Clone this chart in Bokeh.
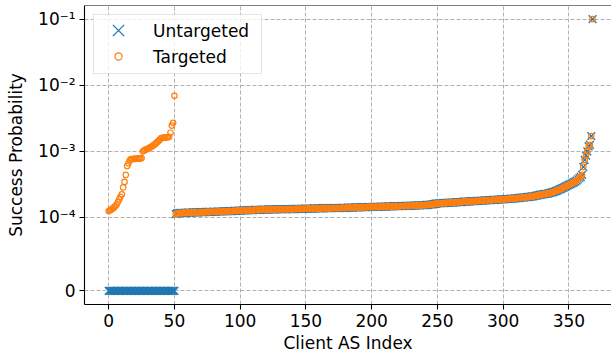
import numpy as np
from bokeh.plotting import figure
from bokeh.models import Range1d, FixedTicker, Span, Legend, LegendItem
from bokeh.embed import file_html
from bokeh.resources import INLINE

# ---------------- data (probabilities in units of 1e-4) ----------------
UNIT = 1e-4

untargeted_head = [0.0] * 51          # indices 0..50 : probability 0

targeted_head = [
    1.25, 1.28, 1.32, 1.36, 1.42, 1.48, 1.55, 1.70, 1.88, 2.05,
    2.24, 2.84, 3.45, 4.40, 6.00, 6.60, 7.30, 7.60, 7.65, 7.70,
    7.70, 7.75, 7.75, 7.80, 7.80, 7.90, 10.0, 10.3, 10.6, 10.8,
    11.0, 11.3, 11.6, 11.9, 12.3, 12.8, 13.3, 13.8, 14.4, 15.2,
    15.8, 16.0, 16.1, 16.2, 16.3, 16.4, 16.5, 19.1, 24.5, 27.0,
    69.0,
]

# indices 51..368 : both attacks give (almost) the same probability
shared_tail = [
    1.12, 1.15, 1.16, 1.16, 1.17, 1.17, 1.17, 1.17, 1.18, 1.18,
    1.18, 1.18, 1.18, 1.19, 1.19, 1.19, 1.19, 1.19, 1.20, 1.20,
    1.20, 1.20, 1.20, 1.21, 1.21, 1.21, 1.21, 1.21, 1.22, 1.22,
    1.22, 1.22, 1.23, 1.23, 1.23, 1.23, 1.24, 1.24, 1.24, 1.24,
    1.25, 1.25, 1.25, 1.25, 1.26, 1.26, 1.26, 1.27, 1.27, 1.27,
    1.27, 1.28, 1.28, 1.28, 1.28, 1.29, 1.29, 1.29, 1.29, 1.29,
    1.30, 1.30, 1.30, 1.30, 1.30, 1.31, 1.31, 1.31, 1.31, 1.31,
    1.31, 1.32, 1.32, 1.32, 1.32, 1.32, 1.32, 1.33, 1.33, 1.33,
    1.33, 1.33, 1.33, 1.33, 1.34, 1.34, 1.34, 1.34, 1.34, 1.34,
    1.34, 1.35, 1.35, 1.35, 1.35, 1.35, 1.35, 1.35, 1.35, 1.36,
    1.36, 1.36, 1.36, 1.36, 1.36, 1.37, 1.37, 1.37, 1.37, 1.37,
    1.37, 1.37, 1.38, 1.38, 1.38, 1.38, 1.38, 1.38, 1.38, 1.39,
    1.39, 1.39, 1.39, 1.39, 1.39, 1.39, 1.40, 1.40, 1.40, 1.40,
    1.40, 1.41, 1.41, 1.41, 1.41, 1.41, 1.42, 1.42, 1.42, 1.42,
    1.42, 1.43, 1.43, 1.43, 1.43, 1.43, 1.44, 1.44, 1.44, 1.44,
    1.44, 1.45, 1.45, 1.45, 1.45, 1.45, 1.46, 1.46, 1.46, 1.46,
    1.46, 1.47, 1.47, 1.47, 1.47, 1.47, 1.48, 1.48, 1.48, 1.48,
    1.48, 1.49, 1.49, 1.49, 1.49, 1.50, 1.50, 1.50, 1.50, 1.51,
    1.51, 1.51, 1.51, 1.52, 1.52, 1.52, 1.52, 1.53, 1.53, 1.53,
    1.54, 1.55, 1.55, 1.56, 1.57, 1.58, 1.59, 1.60, 1.62, 1.63,
    1.63, 1.64, 1.64, 1.65, 1.65, 1.66, 1.66, 1.66, 1.67, 1.67,
    1.68, 1.68, 1.69, 1.69, 1.70, 1.70, 1.71, 1.71, 1.72, 1.73,
    1.73, 1.74, 1.74, 1.75, 1.75, 1.76, 1.76, 1.77, 1.77, 1.78,
    1.78, 1.79, 1.79, 1.80, 1.80, 1.81, 1.81, 1.82, 1.82, 1.83,
    1.83, 1.84, 1.84, 1.85, 1.85, 1.86, 1.86, 1.87, 1.88, 1.88,
    1.89, 1.89, 1.90, 1.91, 1.91, 1.92, 1.93, 1.93, 1.94, 1.95,
    1.96, 1.97, 1.98, 1.99, 2.00, 2.01, 2.02, 2.03, 2.04, 2.05,
    2.06, 2.08, 2.09, 2.11, 2.13, 2.15, 2.17, 2.19, 2.21, 2.23,
    2.25, 2.27, 2.28, 2.30, 2.33, 2.36, 2.39, 2.42, 2.46, 2.50,
    2.55, 2.60, 2.65, 2.71, 2.77, 2.83, 2.90, 2.97, 3.04, 3.11,
    3.18, 3.25, 3.33, 3.42, 3.50, 3.62, 3.78, 3.95,
    4.10, 4.40, 5.80, 7.40, 8.60, 10.0, 11.9, 12.5, 17.0, 1000.0,
]

x_ticks = [0, 50, 100, 150, 200, 250, 300, 350]
y_tick_probs = [0.0, 1e-4, 1e-3, 1e-2, 1e-1]
y_tick_labels = ["0", "10\u207b\u2074", "10\u207b\u00b3", "10\u207b\u00b2", "10\u207b\u00b9"]

series_names = ["Untargeted", "Targeted"]
series_colors = ["#1f77b4", "#ff7f0e"]

# ---------------- symlog transform (linthresh 1e-4, linscale 1) ----------------
LINTHRESH = 1e-4


def symlog(p):
    # 9 units per decade, 10 units for the linear part 0..linthresh
    u = np.asarray(p, dtype=float) / LINTHRESH
    return np.where(u <= 1.0, 10.0 * u, 10.0 + 9.0 * np.log10(np.maximum(u, 1.0)))


untargeted = np.array(untargeted_head + shared_tail) * UNIT
targeted = np.array(targeted_head + shared_tail) * UNIT
idx = np.arange(len(untargeted))

y_u = symlog(untargeted)
y_t = symlog(targeted)
y_ticks = [float(v) for v in symlog(y_tick_probs)]

ymax = max(y_u.max(), y_t.max())
ymargin = 0.05 * ymax
xmargin = 0.05 * (len(idx) - 1)

FONT = "DejaVu Sans"
FS = "17px"

p = figure(
    width=611, height=359,
    output_backend="svg", toolbar_location=None,
    x_range=Range1d(-xmargin, 382.4),
    y_range=Range1d(-ymargin, ymax + ymargin),
    min_border_left=84, min_border_right=0,
    min_border_top=5, min_border_bottom=55,
)
p.outline_line_color = None
p.background_fill_color = "white"
p.border_fill_color = "white"

# top spine
p.add_layout(Span(location=ymax + ymargin, dimension="width",
                  line_color="black", line_width=1.1))

# axes
p.xaxis.ticker = FixedTicker(ticks=x_ticks)
p.yaxis.ticker = FixedTicker(ticks=y_ticks)
p.yaxis.major_label_overrides = {t: lab for t, lab in zip(y_ticks, y_tick_labels)}
p.xaxis.axis_label = "Client AS Index"
p.yaxis.axis_label = "Success Probability"

for ax in (p.xaxis, p.yaxis):
    ax.axis_line_color = "black"
    ax.axis_line_width = 1.1
    ax.major_tick_line_color = "black"
    ax.major_tick_line_width = 1.1
    ax.major_tick_out = 5
    ax.major_tick_in = 0
    ax.minor_tick_out = 0
    ax.minor_tick_in = 0
    ax.major_label_text_font = FONT
    ax.major_label_text_font_size = FS
    ax.major_label_text_color = "black"
    ax.axis_label_text_font = FONT
    ax.axis_label_text_font_size = FS
    ax.axis_label_text_font_style = "normal"
    ax.axis_label_text_color = "black"

p.xaxis.major_label_standoff = 4
p.xaxis.axis_label_standoff = 3
p.yaxis.major_label_standoff = 4
p.yaxis.axis_label_standoff = 9

for g in (p.xgrid, p.ygrid):
    g.grid_line_color = "#b0b0b0"
    g.grid_line_dash = "4 2"
    g.grid_line_width = 1

# data
r_u = p.scatter(idx, y_u, marker="x", size=11, line_color=series_colors[0], line_width=1.3)
r_t = p.scatter(idx, y_t, marker="circle", size=5.5, fill_color=None,
                line_color=series_colors[1], line_width=1.2)

# ---------------- legend ----------------
# frame + labels (marker proxies hidden); the markers are drawn by two
# small marker-only legends so that the cross and the circle get their own sizes
hid_u = p.scatter(x=[], y=[], marker="x", line_alpha=0)
hid_t = p.scatter(x=[], y=[], marker="circle", line_alpha=0, fill_alpha=0)

legend = Legend(
    items=[LegendItem(label=series_names[0], renderers=[hid_u]),
           LegendItem(label=series_names[1], renderers=[hid_t])],
    location="top_left", margin=9, padding=3, spacing=0,
    glyph_width=43, glyph_height=26, label_standoff=13, label_width=105,
    label_text_font=FONT, label_text_font_size=FS, label_text_color="black",
    border_line_color="#cccccc", border_line_width=1,
    background_fill_color="white", background_fill_alpha=0.8,
)
p.add_layout(legend)

FRAME_H = 359 - 5 - 55


def marker_legend(renderer, glyph, cx, cy):
    # cx, cy: wanted glyph centre, in px from the frame's top-left corner
    leg = Legend(
        items=[LegendItem(label=" ", renderers=[renderer])],
        location=(cx - glyph / 2, FRAME_H - cy - glyph / 2),
        margin=0, padding=0, spacing=0,
        glyph_width=glyph, glyph_height=glyph,
        label_standoff=0, label_width=0, label_height=0,
        label_text_font_size="1px", label_text_alpha=0,
        border_line_color=None, background_fill_alpha=0,
    )
    p.add_layout(leg)


marker_legend(r_u, 40, 33.5, 25)
marker_legend(r_t, 18, 33.5, 51)

open("out.html", "w").write(file_html(p, INLINE))
